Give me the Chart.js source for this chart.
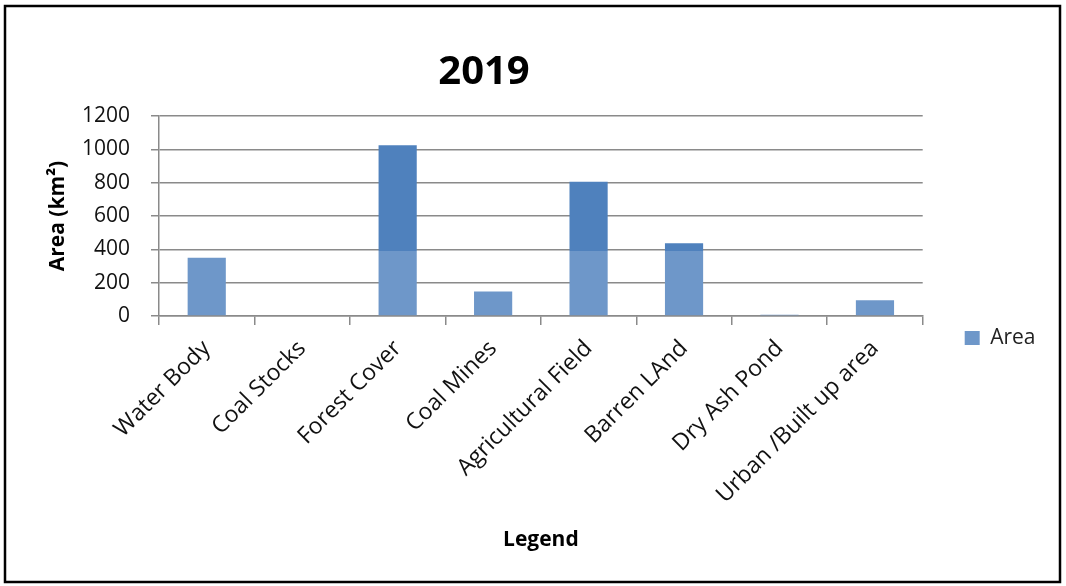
<!DOCTYPE html>
<html>
<head>
<meta charset="utf-8">
<script src="https://cdn.jsdelivr.net/npm/chart.js@4.4.1/dist/chart.umd.min.js"></script>
<style>
html,body{margin:0;padding:0;background:#fff;}
#wrap{width:1066px;height:586px;position:relative;}
canvas{display:block;}
</style>
</head>
<body>
<div id="wrap"><canvas id="c" width="1066" height="586"></canvas></div>
<script>
// ---- data ----
const categories = ['Water Body', 'Coal Stocks', 'Forest Cover', 'Coal Mines', 'Agricultural Field', 'Barren LAnd', 'Dry Ash Pond', 'Urban /Built up area'];
const areaValues = [350, 0, 1025, 147, 806, 437, 8, 94];
const yTickValues = [0, 200, 400, 600, 800, 1000, 1200];
const chartTitle = '2019';
const seriesName = 'Area';
const yAxisTitle = 'Area (km\u00B2)';
const xAxisTitle = 'Legend';

// ---- style / layout ----
const FONT = '"Open Sans", "Noto Sans", sans-serif';
const W = 1066, H = 586;
const PLOT_LEFT = 159, PLOT_TOP = 116, PLOT_BOTTOM = 316, PLOT_RIGHT = 922.7;
const LEG_PAD = 42, LEG_BOX_W = 15, LEG_FONT = 21;

const mctx = document.createElement('canvas').getContext('2d');
mctx.font = LEG_FONT + 'px ' + FONT;
const legTextW = mctx.measureText(seriesName).width;
const legendWidth = LEG_PAD + LEG_BOX_W + LEG_FONT / 2 + legTextW + 10;
const padRight = W - PLOT_RIGHT - legendWidth;

function barFill(context) {
  const c = context.chart.ctx;
  const g = c.createLinearGradient(0, 0, 0, H);
  const s = 251 / H;
  g.addColorStop(0, '#4F81BD');
  g.addColorStop(s, '#4F81BD');
  g.addColorStop(s, '#6E97C9');
  g.addColorStop(1, '#6E97C9');
  return g;
}

const framePlugin = {
  id: 'framePlugin',
  afterLayout(chart) {
    const t = chart.titleBlock;
    if (t) { t.left = 0; t.right = 968; t.width = 968; }
    const lg = chart.legend;
    if (lg) { lg.top = 338 - 50; lg.bottom = 338 + 50; lg.height = 100; }
  },
  beforeDraw(chart) {
    const c = chart.ctx;
    c.save();
    c.fillStyle = '#fff';
    c.fillRect(0, 0, W, H);
    c.restore();
  },
  afterDraw(chart) {
    const c = chart.ctx;
    c.save();
    c.strokeStyle = '#000';
    c.lineWidth = 2.5;
    c.strokeRect(5, 6, 1055, 576);
    c.restore();
  }
};

new Chart(document.getElementById('c'), {
  type: 'bar',
  data: {
    labels: categories,
    datasets: [{
      label: seriesName,
      data: areaValues,
      backgroundColor: barFill,
      borderWidth: 0,
      barPercentage: 0.4,
      categoryPercentage: 1.0
    }]
  },
  options: {
    responsive: false,
    animation: false,
    devicePixelRatio: 1,
    layout: { padding: { left: 10, right: padRight, top: 0, bottom: 0 } },
    plugins: {
      title: {
        display: true,
        text: chartTitle,
        color: '#000',
        font: { family: FONT, size: 40, weight: 'bold', lineHeight: 1.2 },
        padding: { top: 49, bottom: 19 }
      },
      legend: {
        display: true,
        position: 'right',
        align: 'center',
        labels: {
          color: '#222',
          font: { family: FONT, size: LEG_FONT },
          boxWidth: LEG_BOX_W,
          boxHeight: 14,
          padding: LEG_PAD
        }
      },
      tooltip: { enabled: false }
    },
    scales: {
      x: {
        grid: { display: true, drawOnChartArea: false, drawTicks: true, tickLength: 9, color: '#8a8a8a', lineWidth: 1.5, offset: true },
        border: { display: true, color: '#8a8a8a', width: 1.5 },
        ticks: {
          color: '#111',
          font: { family: FONT, size: 23 },
          minRotation: 45, maxRotation: 45,
          autoSkip: false,
          padding: 10
        },
        title: {
          display: true,
          text: xAxisTitle,
          color: '#000',
          font: { family: FONT, size: 21, weight: 'bold', lineHeight: 1.2 },
          padding: { top: 4, bottom: 33 }
        },
        afterFit(scale) { scale.height = H - PLOT_BOTTOM; }
      },
      y: {
        min: 0,
        max: 1200,
        afterBuildTicks(scale) { scale.ticks = yTickValues.map(v => ({ value: v })); },
        grid: { color: '#8a8a8a', lineWidth: 1.5, drawTicks: true, tickLength: 8 },
        border: { display: true, color: '#8a8a8a', width: 1.5 },
        ticks: {
          color: '#111',
          font: { family: FONT, size: 21 },
          padding: 21,
          callback: (v) => String(v)
        },
        title: {
          display: true,
          text: yAxisTitle,
          color: '#000',
          font: { family: FONT, size: 21, weight: 'bold', lineHeight: 1.2 },
          padding: { top: 35, bottom: 4 }
        },
        afterFit(scale) { scale.width = PLOT_LEFT - 10; }
      }
    }
  },
  plugins: [framePlugin]
});
</script>
</body>
</html>
